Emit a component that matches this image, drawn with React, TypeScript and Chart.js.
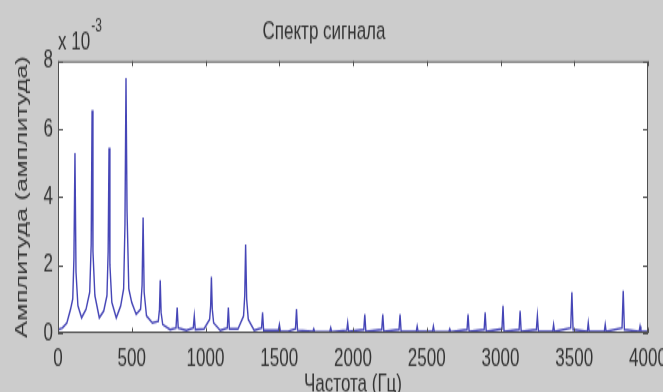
import React, { useEffect, useRef } from "react";
import { Chart, registerables } from "chart.js";

Chart.register(...registerables);

// ---- text ----
const chartTitle = "Спектр сигнала";
const xAxisLabel = "Частота (Гц)";
const yAxisLabel = "Амплитуда (амплитуда)";
const exponentBase = "x 10";
const exponentPower = "-3";

// ---- ticks ----
const xTicks = [0, 500, 1000, 1500, 2000, 2500, 3000, 3500, 4000];
const yTicks = [0, 2, 4, 6, 8];

// ---- series: frequency (Hz) and amplitude (x 10^-3) ----
const freqHz = [
  0, 30, 60, 85, 100, 108, 115, 122, 135, 160, 190, 215, 225, 231, 237, 250,
  280, 310, 332, 340, 346, 352, 365, 395, 425, 445, 454, 461, 468, 480, 500,
  530, 560, 570, 577, 584, 600, 640, 680, 688, 693, 699, 710, 760, 800, 808,
  815, 870, 917, 924, 931, 990, 1028, 1035, 1040, 1046, 1055, 1100, 1148, 1155,
  1162, 1220, 1258, 1266, 1272, 1279, 1290, 1330, 1380, 1387, 1394, 1494, 1501,
  1508, 1560, 1610, 1617, 1624, 1728, 1734, 1740, 1843, 1849, 1855, 1958, 1964,
  1970, 2073, 2080, 2087, 2195, 2202, 2209, 2312, 2319, 2326, 2429, 2435, 2441,
  2539, 2545, 2551, 2650, 2656, 2662, 2773, 2780, 2787, 2889, 2896, 2903, 3010,
  3017, 3024, 3126, 3133, 3140, 3243, 3250, 3257, 3354, 3360, 3366, 3476, 3484,
  3492, 3589, 3595, 3601, 3704, 3710, 3716, 3824, 3832, 3840, 3940, 3946, 3952,
  4000,
];
const amplitude = [
  0.1, 0.15, 0.3, 0.7, 1.0, 2.2, 5.3, 1.8, 0.8, 0.45, 0.7, 1.2, 2.6, 6.55, 2.4, 1.1,
  0.45, 0.65, 1.1, 2.4, 5.45, 2.0, 0.9, 0.45, 0.8, 1.3, 3.2, 7.5, 3.6, 1.3, 0.9,
  0.55, 0.7, 1.4, 3.4, 1.2, 0.5, 0.3, 0.35, 0.7, 1.55, 0.6, 0.25, 0.1, 0.15, 0.75,
  0.15, 0.08, 0.15, 0.5, 0.1, 0.12, 0.4, 0.8, 1.65, 0.7, 0.3, 0.08, 0.15, 0.75,
  0.12, 0.12, 0.5, 1.1, 2.6, 1.0, 0.4, 0.08, 0.15, 0.6, 0.08, 0.08, 0.25,
  0.05, 0.05, 0.12, 0.7, 0.08, 0.05, 0.12, 0.04, 0.05, 0.15, 0.04, 0.08, 0.3,
  0.05, 0.1, 0.55, 0.05, 0.1, 0.55, 0.05, 0.1, 0.55, 0.05, 0.05, 0.2, 0.05,
  0.05, 0.2, 0.05, 0.04, 0.12, 0.04, 0.1, 0.55, 0.05, 0.1, 0.6, 0.05, 0.12,
  0.8, 0.05, 0.1, 0.65, 0.05, 0.1, 0.5, 0.05, 0.05, 0.25, 0.05, 0.15, 1.2,
  0.1, 0.05, 0.3, 0.05, 0.05, 0.25, 0.05, 0.15, 1.25, 0.1, 0.05, 0.2, 0.05,
  0.05,
];

const W = 663;
const H = 270; // drawn height; stretched vertically by 1.5 to match the reference
const STRETCH = 1.5;
const FONT = "'Liberation Sans', Arial, Helvetica, sans-serif";
const TEXT = "#333333";

const plotBackground = {
  id: "plotBackground",
  beforeDatasetsDraw(chart: any) {
    const { ctx, chartArea: a } = chart;
    ctx.save();
    ctx.fillStyle = "#ffffff";
    ctx.fillRect(a.left, a.top, a.right - a.left, a.bottom - a.top);
    ctx.restore();
  },
};

const framePlugin = {
  id: "matlabFrame",
  afterDatasetsDraw(chart: any) {
    const { ctx, chartArea: a, scales } = chart;
    ctx.save();
    ctx.strokeStyle = "#505050";
    ctx.lineWidth = 1;
    ctx.strokeRect(a.left + 0.5, a.top + 0.5, a.right - a.left - 1, a.bottom - a.top - 1);
    ctx.beginPath();
    for (const v of xTicks) {
      const x = Math.round(scales.x.getPixelForValue(v)) + 0.5;
      ctx.moveTo(x, a.bottom);
      ctx.lineTo(x, a.bottom - 3.5);
      ctx.moveTo(x, a.top);
      ctx.lineTo(x, a.top + 3.5);
    }
    for (const v of yTicks) {
      const y = Math.round(scales.y.getPixelForValue(v)) + 0.5;
      ctx.moveTo(a.left, y);
      ctx.lineTo(a.left + 5, y);
      ctx.moveTo(a.right, y);
      ctx.lineTo(a.right - 5, y);
    }
    ctx.stroke();
    ctx.fillStyle = TEXT;
    ctx.textBaseline = "middle";
    ctx.textAlign = "left";
    ctx.font = `17px ${FONT}`;
    ctx.fillText(exponentBase, a.left, 28.7);
    const w = ctx.measureText(exponentBase).width;
    ctx.font = `12px ${FONT}`;
    ctx.fillText(exponentPower, a.left + w + 1, 17.5);
    ctx.restore();
  },
};

export default function App() {
  const ref = useRef<HTMLCanvasElement | null>(null);

  useEffect(() => {
    if (!ref.current) return;
    const points = freqHz.map((f, i) => ({ x: f, y: amplitude[i] }));
    const chart = new Chart(ref.current, {
      type: "line",
      data: {
        datasets: [
          {
            data: points,
            borderColor: "rgba(50,50,175,0.9)",
            borderWidth: 1.4,
            pointRadius: 0,
            tension: 0,
            fill: false,
          },
        ],
      },
      options: {
        animation: false,
        responsive: false,
        devicePixelRatio: 1,
        layout: { padding: { left: 0, right: 15, top: 0, bottom: 0 } },
        plugins: {
          legend: { display: false },
          tooltip: { enabled: false },
          title: {
            display: true,
            text: chartTitle,
            color: TEXT,
            font: { family: FONT, size: 17, weight: "normal" },
            padding: { top: 11, bottom: 9.3 },
          },
        },
        scales: {
          x: {
            type: "linear",
            min: 0,
            max: 4000,
            afterBuildTicks: (s: any) => {
              s.ticks = xTicks.map((v) => ({ value: v }));
            },
            afterFit: (s: any) => {
              s.height = H - 222;
              s.paddingLeft = 0;
              s.paddingRight = 0;
            },
            grid: { display: false, drawTicks: false },
            border: { display: false },
            ticks: {
              color: TEXT,
              padding: 7,
              maxRotation: 0,
              autoSkip: false,
              font: { family: FONT, size: 17 },
              callback: (v: any) => String(v),
            },
            title: {
              display: true,
              text: xAxisLabel,
              color: TEXT,
              font: { family: FONT, size: 17 },
              padding: { top: 0, bottom: 3.1 },
            },
          },
          y: {
            type: "linear",
            min: 0,
            max: 8,
            afterBuildTicks: (s: any) => {
              s.ticks = yTicks.map((v) => ({ value: v }));
            },
            afterFit: (s: any) => {
              s.width = 58;
              s.paddingTop = 0;
              s.paddingBottom = 0;
            },
            grid: { display: false, drawTicks: false },
            border: { display: false },
            ticks: {
              color: TEXT,
              padding: 5,
              autoSkip: false,
              font: { family: FONT, size: 17 },
              callback: (v: any) => String(v),
            },
            title: {
              display: true,
              text: yAxisLabel,
              color: TEXT,
              font: { family: FONT, size: 17 },
              padding: { top: 12, bottom: 0 },
            },
          },
        },
      },
      plugins: [plotBackground, framePlugin],
    });
    return () => chart.destroy();
  }, []);

  return (
    <div
      style={{
        position: "absolute",
        left: 0,
        top: 0,
        width: W,
        height: 392,
        overflow: "hidden",
        background: "#cccccc",
      }}
    >
      <div
        style={{
          width: W,
          height: H,
          transform: `scaleY(${STRETCH})`,
          transformOrigin: "0 0",
        }}
      >
        <canvas ref={ref} width={W} height={H} style={{ display: "block" }} />
      </div>
    </div>
  );
}
